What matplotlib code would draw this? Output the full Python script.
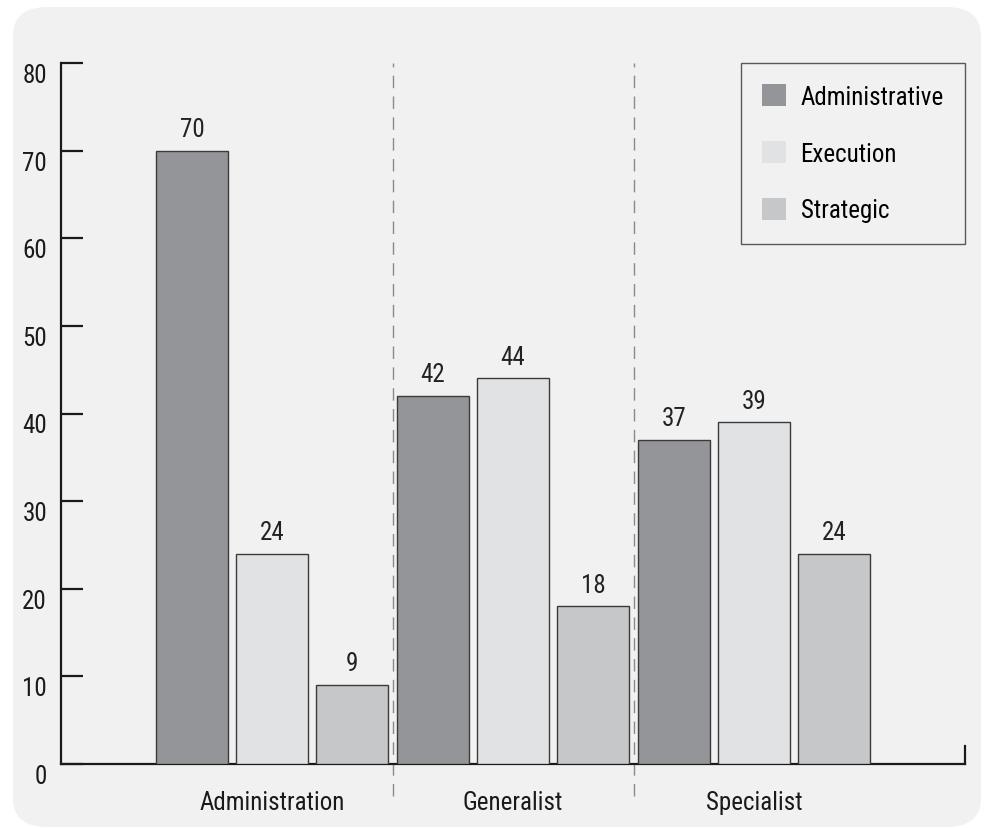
import numpy as np
import matplotlib
matplotlib.use("Agg")
import matplotlib.pyplot as plt
from matplotlib.patches import FancyBboxPatch

# data
groups = ["Administration", "Generalist", "Specialist"]
series = ["Administrative", "Execution", "Strategic"]
administrative = [70, 42, 37]
execution = [24, 44, 39]
strategic = [9, 18, 24]
y_ticks = [0, 10, 20, 30, 40, 50, 60, 70, 80]

colors = ["#939598", "#e1e2e4", "#c6c7c9"]
panel_bg = "#f1f1f1"
edge = "#3a3a3a"

plt.rcParams['font.family'] = ['Roboto Condensed', 'Archivo Narrow', 'PT Sans Narrow',
                               'Liberation Sans Narrow', 'Roboto', 'DejaVu Sans']
fs = 18

fig = plt.figure(figsize=(9.85, 8.29), dpi=100, facecolor="white")

# rounded light panel behind everything
panel = FancyBboxPatch((13 / 985, 1 - 828 / 829), (981 - 13) / 985, (828 - 8) / 829,
                       boxstyle="round,pad=0,rounding_size=0.035",
                       transform=fig.transFigure, facecolor=panel_bg,
                       edgecolor="none", zorder=-10)
fig.patches.append(panel)

ax = fig.add_axes([61 / 985, 1 - 765 / 829, (965 - 61) / 985, (765 - 64) / 829])
ax.set_facecolor("none")

x = np.arange(len(groups))
width = 0.299
step = 0.332
values = [administrative, execution, strategic]
for i, (name, vals) in enumerate(zip(series, values)):
    bars = ax.bar(x + (i - 1) * step, vals, width, color=colors[i],
                  edgecolor=edge, linewidth=1.0, label=name, zorder=3)
    ax.bar_label(bars, padding=7, fontsize=fs, color="#222222")

# dashed separators between groups
for sep in x[:-1] + 0.5:
    ax.axvline(sep, ymin=-0.046, ymax=1, color="#8a8a8a", linewidth=1.0,
               dashes=(9, 6), clip_on=False, zorder=1)

ax.set_xlim(-0.876, 2.875)
ax.set_ylim(0, 80)
ax.set_yticks(y_ticks)
ax.set_xticks(x)
ax.set_xticklabels(groups)

ax.spines["top"].set_visible(False)
ax.spines["right"].set_bounds(0, 2)
for s in ["left", "bottom", "right"]:
    ax.spines[s].set_linewidth(1.6)
    ax.spines[s].set_color("#1a1a1a")

ax.tick_params(axis="y", direction="in", length=16, width=1.6, pad=10,
               colors="#1a1a1a", labelsize=fs)
ax.tick_params(axis="x", length=0, pad=19, labelsize=fs, colors="#1a1a1a")
for lab in ax.get_yticklabels():
    lab.set_verticalalignment("top")

leg = ax.legend(loc="upper right", bbox_to_anchor=(1.0, 1.0), borderaxespad=0,
                frameon=True, fancybox=False, handlelength=0.95, handleheight=0.95,
                handletextpad=0.6, borderpad=0.85, labelspacing=1.3,
                fontsize=fs)
leg.get_frame().set_facecolor(panel_bg)
leg.get_frame().set_edgecolor("#333333")
leg.get_frame().set_linewidth(1.0)
for h in leg.legend_handles:
    h.set_edgecolor("none")

fig.savefig("out.png", dpi=100, facecolor="white")
